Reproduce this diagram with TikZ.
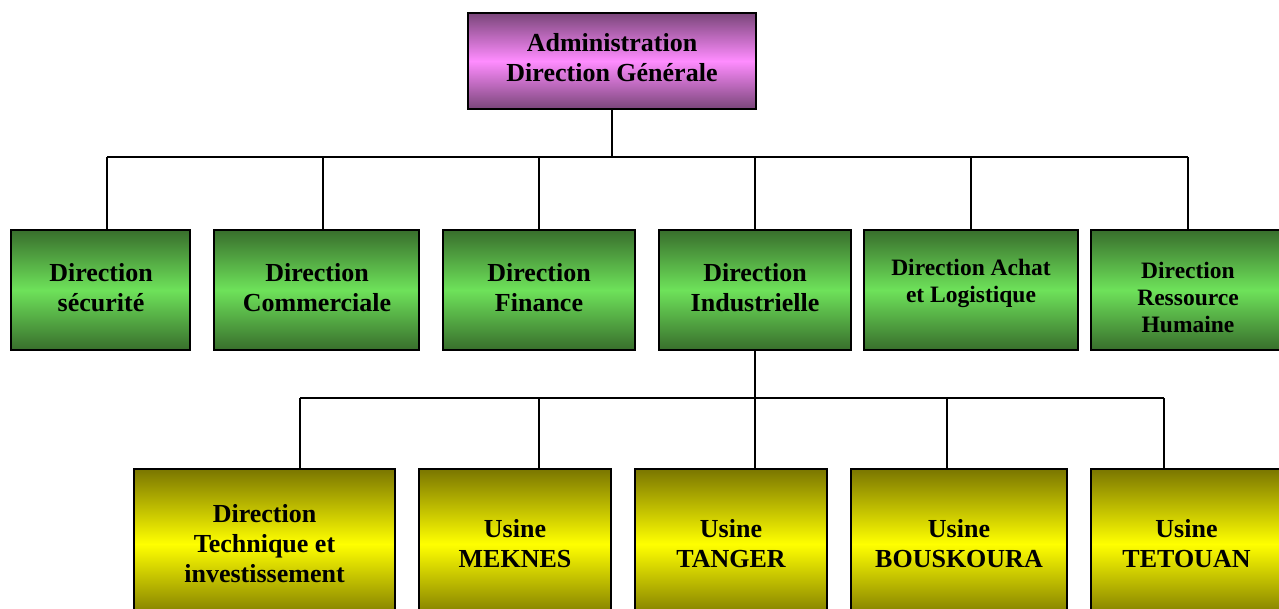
\documentclass[tikz,border=0pt]{standalone}
\usepackage{fontspec}
\setmainfont{Liberation Serif}
\definecolor{magmid}{RGB}{255,140,255}
\definecolor{magdark}{RGB}{122,70,122}
\definecolor{grnmid}{RGB}{110,226,90}
\definecolor{grndark}{RGB}{56,110,44}
\definecolor{yelmid}{RGB}{255,255,0}
\definecolor{yeldark}{RGB}{122,118,0}
\begin{document}
\begin{tikzpicture}[x=1pt,y=-1pt,
  box/.style={draw=black,line width=1.3pt,align=center,inner sep=0pt,
    font=\bfseries\fontsize{26}{30}\selectfont},
  topbox/.style={box,top color=magdark,bottom color=magdark,middle color=magmid},
  grnbox/.style={box,top color=grndark,bottom color=grndark,middle color=grnmid},
  yelbox/.style={box,top color=yeldark,bottom color=yeldark,middle color=yelmid},
  small/.style={font=\bfseries\fontsize{23.5}{27}\selectfont},
  conn/.style={draw=black,line width=1.3pt}]
\useasboundingbox (0,0) rectangle (1279,608);
\clip (0,0) rectangle (1279,608);
% top
\node[topbox,minimum width=288pt,minimum height=96pt] (top) at (612,61) {};
\node[font=\bfseries\fontsize{26}{30}\selectfont,align=center] (topt) at (612,58) {Administration\\Direction Générale};
% green row
\node[grnbox,minimum width=179pt,minimum height=120pt] (g1) at (100.5,290) {};
\node[font=\bfseries\fontsize{26}{30}\selectfont,align=center] (g1t) at (101,288) {Direction\\sécurité};
\node[grnbox,minimum width=205pt,minimum height=120pt] (g2) at (316.5,290) {};
\node[font=\bfseries\fontsize{26}{30}\selectfont,align=center] (g2t) at (317,288) {Direction\\Commerciale};
\node[grnbox,minimum width=192pt,minimum height=120pt] (g3) at (539,290) {};
\node[font=\bfseries\fontsize{26}{30}\selectfont,align=center] (g3t) at (539,288) {Direction\\Finance};
\node[grnbox,minimum width=192pt,minimum height=120pt] (g4) at (755,290) {};
\node[font=\bfseries\fontsize{26}{30}\selectfont,align=center] (g4t) at (755,288) {Direction\\Industrielle};
\node[grnbox,minimum width=214pt,minimum height=120pt] (g5) at (971,290) {};
\node[small,align=center] (g5t) at (971,283) {Direction Achat\\et Logistique};
\node[grnbox,minimum width=191pt,minimum height=120pt] (g6) at (1186.5,290) {};
\node[small,align=center] (g6t) at (1188,297) {Direction\\Ressource\\Humaine};
% yellow row
\node[yelbox,minimum width=261pt,minimum height=150pt] (y1) at (264.5,544) {Direction\\Technique et\\investissement};
\node[yelbox,minimum width=192pt,minimum height=150pt] (y2) at (515,544) {Usine\\MEKNES};
\node[yelbox,minimum width=192pt,minimum height=150pt] (y3) at (731,544) {Usine\\TANGER};
\node[yelbox,minimum width=216pt,minimum height=150pt] (y4) at (959,544) {Usine\\BOUSKOURA};
\node[yelbox,minimum width=191pt,minimum height=150pt] (y5) at (1186.5,544) {Usine\\TETOUAN};
% bus 1
\coordinate (b0) at (612,157);
\coordinate (c1) at (107,157);
\coordinate (c2) at (323,157);
\coordinate (c3) at (539,157);
\coordinate (c4) at (755,157);
\coordinate (c5) at (971,157);
\coordinate (c6) at (1188,157);
\draw[conn] (top.south) -- (b0);
\draw[conn] (c1) -- (c6);
\foreach \i in {1,...,6} {\draw[conn] (c\i) -- (g\i.north -| c\i);}
% bus 2
\coordinate (d0) at (755,398);
\coordinate (e1) at (300,398);
\coordinate (e2) at (539,398);
\coordinate (e3) at (755,398);
\coordinate (e4) at (947,398);
\coordinate (e5) at (1164,398);
\draw[conn] (g4.south) -- (d0);
\draw[conn] (e1) -- (e5);
\foreach \i in {1,...,5} {\draw[conn] (e\i) -- (y\i.north -| e\i);}
\end{tikzpicture}
\end{document}
